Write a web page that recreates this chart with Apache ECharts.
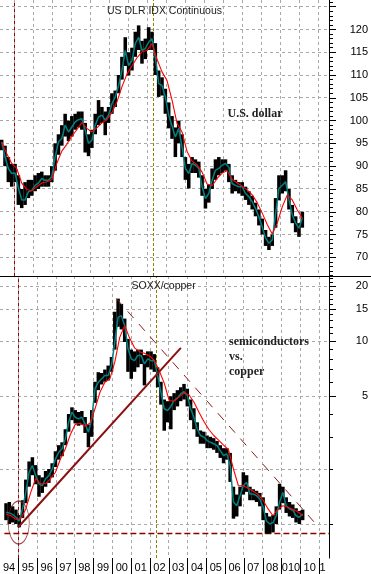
<!DOCTYPE html>
<html><head><meta charset="utf-8">
<script src="https://cdn.jsdelivr.net/npm/echarts@6/dist/echarts.min.js"></script>
<style>html,body{margin:0;padding:0;background:#fff}#c{width:371px;height:574px}</style>
</head><body><div id="c"></div>
<script>
// ---- tick labels ----
const yearLabels = ['94','95','96','97','98','99','00','01','02','03','04','05','06','07','08','010','10','1'];
const yearBounds = [1995,1996,1997,1998,1999,2000,2001,2002,2003,2004,2005,2006,2007,2008,2009,2010,2011];
const yearMids = [1994.5,1995.5,1996.5,1997.5,1998.5,1999.5,2000.5,2001.5,2002.5,2003.5,2004.5,2005.5,2006.5,2007.5,2008.5,2009.5,2010.5,2011.5];
const dxyLabels = [70,75,80,85,90,95,100,105,110,115,120];
const dxyGridValues = [70,75,80,85,90,95,100,105,110,115,120,125];
const ratioLabels = [20,15,10,5];
const ratioGridValues = [20,15,10,5,2,1];
const ratioMinorTicks = [1,2,3,4,6,7,8,9,11,12,13,14,16,17,18,19,21,22];

// ---- sampling (decimal years) ----
const sampleStart = 1994.335;
const sampleStep = 0.17544;   // price / short average samples
const maStep = 0.26316;       // long average samples

// ---- US dollar index ----
const dxyTeal = [95.3,92.0,89.5,88.4,88.5,85.2,82.6,82.6,84.4,84.7,
 85.8,86.3,87.3,86.9,86.9,87.7,92.0,95.3,96.1,99.0,
 97.5,98.6,99.7,100.2,100.4,97.9,95.0,95.7,99.0,100.8,
 101.2,100.1,101.2,103.7,105.2,107.7,111.0,115.4,112.1,113.2,
 116.9,118.3,115.4,115.8,117.2,118.0,113.9,108.1,107.7,105.2,
 101.2,98.8,96.4,98.3,94.2,89.5,88.4,90.6,90.2,89.5,
 85.5,82.9,84.0,86.9,89.1,89.5,90.2,90.6,89.8,86.2,
 85.8,85.5,85.5,84.0,83.3,82.2,80.7,78.9,76.7,74.2,
 73.1,73.8,79.6,85.1,85.8,86.6,82.6,79.3,77.5,76.4,
 78.6];
const dxyHigh = [95.8,94.5,92.0,90.5,90.5,88.0,85.0,86.5,87.0,87.0,
 88.0,88.5,88.8,88.0,88.0,90.0,95.0,97.0,99.0,101.5,
 100.0,101.0,101.5,102.0,102.0,99.5,97.0,98.0,101.5,104.5,
 103.0,102.0,103.0,106.0,106.6,110.0,114.0,118.3,115.0,116.0,
 119.5,120.9,117.5,118.0,120.5,119.5,117.0,111.0,109.5,107.0,
 104.0,101.0,98.5,100.0,97.0,92.0,90.5,92.0,91.5,91.0,
 88.0,85.0,86.0,89.5,91.5,92.0,91.5,91.5,90.5,88.0,
 87.0,86.5,86.5,85.5,84.5,83.5,82.0,80.5,78.5,76.0,
 74.5,75.0,83.0,88.0,88.0,89.1,85.0,81.5,79.0,77.5,
 80.0];
const dxyLow = [93.5,90.0,86.5,85.5,86.5,81.5,80.8,81.5,83.0,83.5,
 84.5,85.0,85.5,85.5,85.5,86.5,89.0,92.5,94.5,96.5,
 95.5,96.5,98.0,98.5,98.0,93.0,92.2,94.0,97.0,99.0,
 99.5,96.8,99.5,101.5,103.0,106.0,109.0,112.0,109.9,111.0,
 114.0,115.5,112.5,113.5,115.5,115.5,110.0,105.2,105.5,101.5,
 98.3,96.0,92.0,95.0,92.0,87.0,85.1,88.5,88.5,87.5,
 83.5,80.7,82.0,85.0,87.0,88.0,88.5,89.0,86.5,84.0,
 84.5,84.0,83.5,82.6,81.5,80.5,79.0,77.0,75.0,72.5,
 71.6,72.5,76.5,82.5,84.0,84.5,80.5,77.5,75.5,74.5,
 76.5];
const dxyRed = [95.3,92.8,90.6,89.5,86.3,84.9,84.6,85.5,86.3,86.6,
 87.0,90.6,93.3,94.8,96.6,98.0,99.6,98.3,97.5,98.4,
 99.5,100.2,101.8,104.1,107.4,110.2,112.0,113.8,115.1,115.4,
 116.9,113.5,110.7,108.8,104.5,99.4,97.5,93.2,91.1,90.3,
 88.7,86.1,85.7,87.3,88.5,89.0,87.1,86.3,85.6,84.8,
 83.7,82.0,79.7,77.2,75.1,77.5,81.1,83.7,82.6,80.4,
 78.6];

// ---- SOXX / copper ratio ----
const ratioTeal = [1.16,1.15,1.13,1.09,1.04,1.21,1.49,1.92,2.09,1.84,
 1.66,1.62,1.77,1.84,2.00,2.27,2.47,2.58,2.92,3.61,
 4.09,3.84,3.76,3.84,3.53,3.18,3.76,5.50,5.97,6.23,
 6.49,6.49,7.36,9.88,13.5,13.8,12.2,9.09,8.01,7.83,
 8.36,8.36,7.52,8.01,7.83,7.83,6.49,5.26,4.27,4.18,
 4.40,4.74,4.90,5.15,5.30,5.05,4.27,3.84,3.32,3.05,
 2.99,2.86,2.80,2.75,2.69,2.52,2.37,2.42,2.09,1.32,
 1.26,1.43,1.62,1.69,1.46,1.46,1.43,1.37,1.24,1.04,
 1.00,1.02,1.11,1.32,1.49,1.26,1.21,1.19,1.11,1.09,
 1.14];
const ratioHigh = [1.30,1.32,1.25,1.20,1.12,1.35,1.75,2.20,2.32,2.10,
 1.85,1.80,1.95,2.00,2.15,2.50,2.70,2.80,3.30,4.00,
 4.35,4.20,4.10,4.15,3.85,3.50,4.20,6.00,6.77,6.70,
 7.00,7.36,8.20,14.5,17.1,16.0,13.3,10.3,9.00,8.80,
 9.00,9.00,8.40,8.80,8.80,8.50,7.20,6.00,4.80,4.70,
 5.00,5.20,5.40,5.60,5.84,5.50,4.80,4.30,3.60,3.25,
 3.20,3.05,3.00,2.95,2.85,2.70,2.60,2.60,2.45,1.60,
 1.45,1.60,1.92,1.85,1.60,1.55,1.52,1.48,1.40,1.15,
 1.10,1.12,1.25,1.66,1.60,1.40,1.32,1.28,1.22,1.18,
 1.20];
const ratioLow = [1.05,1.00,1.02,1.00,0.96,1.08,1.30,1.60,1.85,1.65,
 1.41,1.48,1.60,1.68,1.80,2.05,2.25,2.35,2.70,3.20,
 3.70,3.55,3.45,3.50,3.15,2.63,3.00,4.60,5.40,5.80,
 6.00,6.10,6.80,9.00,12.0,11.6,9.90,6.80,6.23,6.80,
 7.20,7.50,5.73,7.20,7.00,6.80,5.60,4.50,3.24,3.60,
 3.30,4.20,4.40,4.70,4.80,4.40,3.70,3.30,3.00,2.75,
 2.75,2.60,2.60,2.55,2.45,2.30,2.15,2.25,1.70,1.07,
 1.10,1.25,1.45,1.50,1.35,1.35,1.32,1.25,1.05,0.885,
 0.89,0.90,1.00,1.20,1.30,1.15,1.10,1.08,1.02,1.00,
 1.05];
const ratioRed = [1.13,1.11,1.06,1.07,1.21,1.49,1.77,1.66,1.66,1.77,
 1.92,2.27,2.58,3.08,3.51,3.56,3.43,3.57,4.27,5.26,
 5.97,6.23,7.68,10.5,12.2,10.4,9.20,8.77,8.59,8.30,
 7.85,6.90,5.90,4.74,4.70,4.95,5.20,5.10,4.65,4.10,
 3.65,3.30,3.05,2.88,2.70,2.55,2.00,1.62,1.62,1.57,
 1.51,1.45,1.35,1.21,1.11,1.21,1.26,1.24,1.20,1.17,
 1.11];

// ---- annotations ----
const ratioUptrend = [[1994.98, 0.96], [2003.64, 9.2]];
const ratioDowntrend = [[2000.21, 17.1], [2010.83, 1.0]];
const ratioSupport = 0.887;
const markerYears = [1995.0, 2002.32];
const circledLow = [[1995.01, 1.02]];

// ---- chart ----
const xMin = 1994.247, xMax = 2011.526;
const dxyMin = 65.9, dxyMax = 126.47, ratioMin = 0.652, ratioMax = 22.74;
const gridColor = '#a8a8a8';
const axisFont = {fontFamily: 'Liberation Sans', fontSize: 11, color: '#000'};

function times(n, step) { const a = []; for (let i = 0; i < n; i++) a.push(sampleStart + i * step); return a; }
const tFast = times(dxyTeal.length, sampleStep);
const tSlow = times(dxyRed.length, maStep);
const pairs = (t, v) => v.map((y, i) => [t[i], y]);

function rangeSeries(xi, yi, hi, lo) {
  return {
    type: 'custom', xAxisIndex: xi, yAxisIndex: yi, z: 2, clip: true, silent: true,
    data: hi.map((h, i) => [tFast[i], lo[i], h]),
    encode: {x: 0, y: [1, 2]},
    renderItem: function (params, api) {
      const t = api.value(0);
      const top = api.coord([t, api.value(2)]);
      const bot = api.coord([t, api.value(1)]);
      const l = api.coord([t - sampleStep / 2, api.value(2)])[0];
      const r = api.coord([t + sampleStep / 2, api.value(2)])[0];
      const w = (r - l) + 0.2;
      return {type: 'rect', shape: {x: top[0] - w / 2, y: top[1], width: w, height: Math.max(1, bot[1] - top[1])}, style: {fill: '#000'}};
    }
  };
}
function lineSeries(xi, yi, data, color, width, z, extra) {
  return Object.assign({type: 'line', xAxisIndex: xi, yAxisIndex: yi, data: data, showSymbol: false, symbol: 'none',
    lineStyle: {color: color, width: width}, z: z, silent: true}, extra || {});
}
const vMarkData = [
  {xAxis: markerYears[0], lineStyle: {color: '#a00000', type: [3, 3], width: 1}},
  {xAxis: markerYears[1], lineStyle: {color: '#8b8000', type: [3, 2], width: 1}}
];
const vMarks = {z: 1, silent: true, symbol: ['none', 'none'], label: {show: false}, data: vMarkData};
const vMarksBottom = {z: 1, silent: true, symbol: ['none', 'none'], label: {show: false},
  data: vMarkData.concat([{yAxis: ratioSupport, lineStyle: {color: '#8b0000', type: [6, 3], width: 1.3}}])};

function xAxisCfg(gi, showLabels) {
  return {
    type: 'value', gridIndex: gi, min: xMin, max: xMax,
    axisLine: {show: false},
    axisTick: {show: showLabels, customValues: yearBounds, length: 16, lineStyle: {color: '#000'}},
    axisLabel: showLabels ? Object.assign({customValues: yearMids, margin: 4,
      formatter: function (v) { const i = Math.round(v - 1994.5); const s = yearLabels[i]; return i === yearLabels.length - 1 ? '{e|' + s + '}' : s; },
      rich: {e: Object.assign({padding: [0, 12, 0, 0]}, axisFont)}}, axisFont) : {show: false},
    splitLine: {show: false}
  };
}
const yLabelCfg = Object.assign({align: 'right', margin: 39}, axisFont);

const option = {
  animation: false,
  backgroundColor: '#fff',
  grid: [
    {left: 0, right: 42, top: 0, height: 276},
    {left: 0, right: 42, top: 276, bottom: 16}
  ],
  title: [
    {text: 'US DLR IDX Continuous', left: 107, top: 5, padding: 0, textStyle: {fontFamily: 'Liberation Sans', fontSize: 10.5, fontWeight: 'normal', color: '#222', lineHeight: 12}},
    {text: 'SOXX/copper', left: 131.5, top: 280, padding: 0, textStyle: {fontFamily: 'Liberation Sans', fontSize: 10.5, fontWeight: 'normal', color: '#222', lineHeight: 12}},
    {text: 'U.S. dollar', left: 227.5, top: 107, padding: 0, textStyle: {fontFamily: 'Liberation Serif', fontSize: 12, fontWeight: 'bold', color: '#222', lineHeight: 14}},
    {text: 'semiconductors\nvs.\ncopper', left: 229, top: 334.5, padding: 0, textStyle: {fontFamily: 'Liberation Serif', fontSize: 12, fontWeight: 'bold', color: '#222', lineHeight: 15}}
  ],
  xAxis: [xAxisCfg(0, false), xAxisCfg(1, true)],
  yAxis: [
    {type: 'value', gridIndex: 0, position: 'right', min: dxyMin, max: dxyMax,
      axisLine: {show: true, lineStyle: {color: '#000'}},
      axisTick: {show: true, customValues: dxyGridValues, length: 7, lineStyle: {color: '#000'}},
      axisLabel: Object.assign({customValues: dxyLabels}, yLabelCfg),
      splitLine: {show: false}},
    {type: 'value', gridIndex: 0, position: 'right', min: dxyMin, max: dxyMax,
      axisLine: {show: false},
      axisTick: {show: true, customValues: (function () { const a = []; for (let v = 66; v <= 126; v++) if (v % 5) a.push(v); return a; })(), length: 4, lineStyle: {color: '#000'}},
      axisLabel: {show: false}, splitLine: {show: false}},
    {type: 'log', gridIndex: 1, position: 'right', min: ratioMin, max: ratioMax,
      axisLine: {show: true, lineStyle: {color: '#000'}},
      axisTick: {show: true, customValues: ratioLabels, length: 7, lineStyle: {color: '#000'}},
      axisLabel: Object.assign({customValues: ratioLabels, formatter: v => String(Math.round(v))}, yLabelCfg),
      splitLine: {show: false}},
    {type: 'log', gridIndex: 1, position: 'right', min: ratioMin, max: ratioMax,
      axisLine: {show: false},
      axisTick: {show: true, customValues: ratioMinorTicks, length: 4, lineStyle: {color: '#000'}},
      axisLabel: {show: false}, splitLine: {show: false}}
  ],
  series: [
    rangeSeries(0, 0, dxyHigh, dxyLow),
    lineSeries(0, 0, pairs(tFast, dxyTeal), '#008080', 1.5, 3, {markLine: vMarks}),
    lineSeries(0, 0, pairs(tSlow, dxyRed), '#ff0000', 1.1, 4),
    rangeSeries(1, 2, ratioHigh, ratioLow),
    lineSeries(1, 2, pairs(tFast, ratioTeal), '#008080', 1.5, 3, {markLine: vMarksBottom}),
    lineSeries(1, 2, pairs(tSlow, ratioRed), '#ff0000', 1.1, 4),
    lineSeries(1, 2, ratioUptrend, '#8b1010', 2, 5),
    lineSeries(1, 2, ratioDowntrend, '#8b1a1a', 1, 5, {lineStyle: {color: '#8b1a1a', width: 1, type: [9, 8]}}),
    {type: 'scatter', xAxisIndex: 1, yAxisIndex: 2, data: circledLow, symbol: 'circle', symbolSize: [21, 43], z: 6, silent: true,
      itemStyle: {color: 'rgba(0,0,0,0)', borderColor: '#8b1a1a', borderWidth: 1}}
  ]
};
const chart = echarts.init(document.getElementById('c'), null, {renderer: 'canvas'});
chart.setOption(option);

// dashed grid, positioned through the chart's own axis scales
const toPx = (finder, v) => chart.convertToPixel(finder, v);
const crisp = v => Math.floor(v) + 0.5;
const topY0 = toPx({yAxisIndex: 0}, dxyMax), topY1 = toPx({yAxisIndex: 0}, dxyMin);
const botY0 = toPx({yAxisIndex: 2}, ratioMax), botY1 = toPx({yAxisIndex: 2}, ratioMin);
const xL = toPx({xAxisIndex: 0}, xMin), xR = toPx({xAxisIndex: 0}, xMax);
const dashLine = (x1, y1, x2, y2) => ({type: 'line', silent: true, z: 0,
  shape: {x1: x1, y1: y1, x2: x2, y2: y2}, style: {stroke: gridColor, lineWidth: 1, lineDash: [3, 3]}});
const els = [];
yearBounds.forEach(v => {
  const xa = crisp(toPx({xAxisIndex: 0}, v));
  els.push(dashLine(xa, topY0, xa, topY1));
  const xb = crisp(toPx({xAxisIndex: 1}, v));
  els.push(dashLine(xb, botY0, xb, botY1));
});
dxyGridValues.forEach(v => { const y = crisp(toPx({yAxisIndex: 0}, v)); els.push(dashLine(xL, y, xR, y)); });
ratioGridValues.forEach(v => { const y = crisp(toPx({yAxisIndex: 2}, v)); els.push(dashLine(xL, y, xR, y)); });
els.push({type: 'line', silent: true, z: 100, shape: {x1: 0, y1: 276.5, x2: 371, y2: 276.5}, style: {stroke: '#000', lineWidth: 1}});
chart.setOption({graphic: {elements: els}});
</script></body></html>
